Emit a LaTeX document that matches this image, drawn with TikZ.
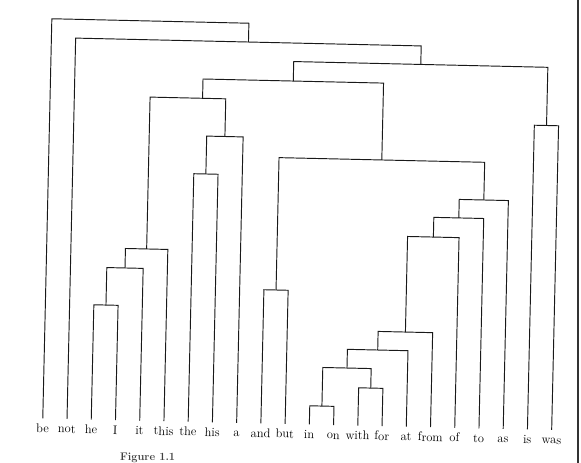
\documentclass[tikz,border=0pt]{standalone}
\usepackage{fontspec}
\newcommand\merge[3]{\draw[link] (#1) -- (#1 |- #3) -- (#2 |- #3) -- (#2);}
\begin{document}
\begin{tikzpicture}[x=1pt,y=-1pt,
  link/.style={draw=black!90, line width=0.95pt},
  word/.style={anchor=base, inner sep=0pt, font=\fontsize{12.5}{15}\selectfont},
  border/.style={draw=black!80, line width=1.1pt}]
\useasboundingbox (0,0) rectangle (581,463);
\fill[white] (0,0) rectangle (581,463);
\begin{scope}[transform canvas={rotate around={-1.3:(290,230)}}]
  % leaves
  \foreach \w [count=\i from 0] in {be,not,he,I,it,this,the,his,a,and,but,in,on,with,for,at,from,of,to,as,is,was} {
    \node[word] (w\i) at ({47.1+24.24*\i},438) {\w};
    \coordinate (b\i) at ({47.1+24.24*\i},424);
  }
  % internal nodes (position of vertical stem, height of bar)
  \coordinate (P)  at (107.7,309.2);
  \coordinate (O)  at (125.9,271.7);
  \coordinate (N)  at (147.1,252.2);
  \coordinate (Q)  at (204.6,175.9);
  \coordinate (F)  at (222.8,138);
  \coordinate (E)  at (199.6,100.3);
  \coordinate (R)  at (277.4,290.3);
  \coordinate (T)  at (325.9,405.3);
  \coordinate (S)  at (374.3,386.2);
  \coordinate (M)  at (350.1,366.7);
  \coordinate (L)  at (380.4,348);
  \coordinate (K)  at (407.7,329.4);
  \coordinate (J)  at (433.5,233.8);
  \coordinate (nI) at (458.5,214.1);
  \coordinate (H)  at (483.1,195.6);
  \coordinate (G)  at (380.2,157.9);
  \coordinate (D)  at (289.9,81);
  \coordinate (W)  at (544.1,119.7);
  \coordinate (C)  at (417,61.5);
  \coordinate (B)  at (244.2,43);
  \coordinate (A)  at (145.6,24.2);
  % merges
  \merge{b2}{b3}{P}
  \merge{P}{b4}{O}
  \merge{O}{b5}{N}
  \merge{b6}{b7}{Q}
  \merge{Q}{b8}{F}
  \merge{N}{F}{E}
  \merge{b9}{b10}{R}
  \merge{b11}{b12}{T}
  \merge{b13}{b14}{S}
  \merge{T}{S}{M}
  \merge{M}{b15}{L}
  \merge{L}{b16}{K}
  \merge{K}{b17}{J}
  \merge{J}{b18}{nI}
  \merge{nI}{b19}{H}
  \merge{R}{H}{G}
  \merge{E}{G}{D}
  \merge{b20}{b21}{W}
  \merge{D}{W}{C}
  \merge{b1}{C}{B}
  \merge{b0}{B}{A}
\end{scope}
% caption at the bottom edge
\node[anchor=base west, inner sep=0pt, text=black!75,
      font=\fontsize{11}{13}\selectfont\bfseries] (cap) at (120,460) {Figure 1.1};
% scan edge on the right
\draw[border] (578,0) -- (578,463);
\end{tikzpicture}
\end{document}
